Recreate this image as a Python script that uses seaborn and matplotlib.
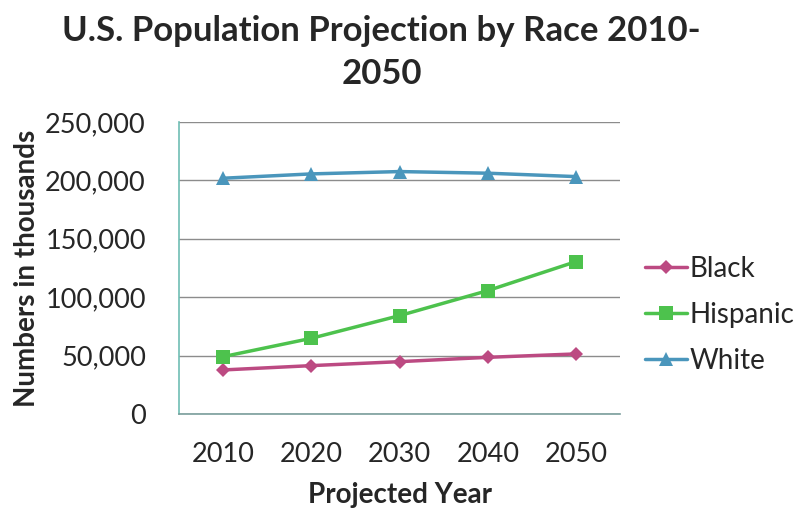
import numpy as np
import pandas as pd
import seaborn as sns
import matplotlib.pyplot as plt
from matplotlib.ticker import FuncFormatter, FixedLocator

# --- Data (thousands) ---
YEARS = ["2010", "2020", "2030", "2040", "2050"]
BLACK = [37700, 41400, 44800, 48500, 51400]
HISPANIC = [49100, 64800, 84200, 105600, 130400]
WHITE = [201800, 205500, 207500, 206100, 203200]
SERIES = ["Black", "Hispanic", "White"]

COLORS = {"Black": "#BC4A82", "Hispanic": "#4DC24D", "White": "#4A96BC"}
MARKERS = {"Black": "D", "Hispanic": "s", "White": "^"}
MSIZES = {"Black": 7, "Hispanic": 10, "White": 10}

sns.set_theme(style="white")
plt.rcParams["font.family"] = ["Lato", "DejaVu Sans"]

df = pd.DataFrame({
    "pos": list(range(len(YEARS))) * 3,
    "value": BLACK + HISPANIC + WHITE,
    "race": [s for s in SERIES for _ in YEARS],
})

fig = plt.figure(figsize=(8, 5.21), dpi=100)
ax = fig.add_axes([0.224, 0.2054, 0.551, 0.5606])

for name in SERIES:
    sub = df[df["race"] == name]
    sns.lineplot(data=sub, x="pos", y="value", ax=ax, color=COLORS[name],
                 marker=MARKERS[name], markersize=MSIZES[name], linewidth=2.5,
                 markeredgewidth=0, label=name)

ax.set_xlim(-0.5, len(YEARS) - 0.5)
ax.set_ylim(0, 250000)
ax.set_yticks(np.arange(0, 250001, 50000))
ax.yaxis.set_major_formatter(FuncFormatter(lambda v, p: f"{int(v):,}"))
ax.yaxis.grid(True, color="#8c8c8c", linewidth=1)
ax.set_axisbelow(True)

# category labels centered, tick marks between categories
ax.set_xticks(range(len(YEARS)))
ax.set_xticklabels(YEARS)
ax.xaxis.set_minor_locator(FixedLocator(np.arange(-0.5, len(YEARS), 1.0)))
ax.tick_params(axis="x", which="major", length=0, pad=20, labelsize=19.5)
ax.tick_params(axis="x", which="minor", length=8, width=1, color="#6f9c9a", direction="out")
ax.tick_params(axis="y", length=8, width=1, color="#8c8c8c", direction="out",
               pad=16, labelsize=19.5)

for side in ["top", "right"]:
    ax.spines[side].set_visible(False)
ax.spines["left"].set_color("#6fbdb4")
ax.spines["left"].set_linewidth(1.2)
ax.spines["bottom"].set_color("#7a9e9c")
ax.spines["bottom"].set_linewidth(1.2)

ax.set_xlabel("Projected Year", fontsize=20, fontweight="bold", labelpad=11)
ax.set_ylabel("Numbers in thousands", fontsize=20, fontweight="bold", labelpad=4)
fig.suptitle("U.S. Population Projection by Race 2010-\n2050", fontsize=25,
             fontweight="bold", x=0.477, y=0.972, linespacing=1.45)

ax.legend(loc="center left", bbox_to_anchor=(1.0, 0.339), frameon=False,
          fontsize=20, handlelength=1.5, handletextpad=0.1, labelspacing=0.72)

fig.savefig("out.png", dpi=100, facecolor="white")
